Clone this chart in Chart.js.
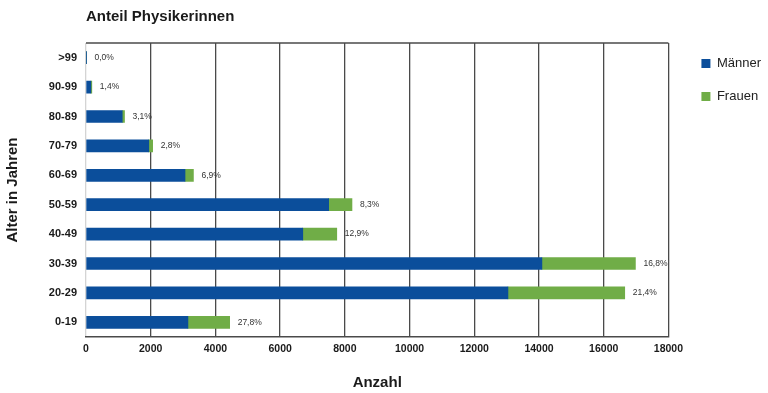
<!DOCTYPE html>
<html>
<head>
<meta charset="utf-8">
<script src="https://cdn.jsdelivr.net/npm/chart.js@4.4.0/dist/chart.umd.min.js"></script>
<style>
  html, body { margin: 0; padding: 0; background: #fff; }
  #wrap { width: 768px; height: 393px; }
</style>
</head>
<body>
<div id="wrap"><canvas id="barChart" width="768" height="393"></canvas></div>
<script>
// Altersgruppen, von unten nach oben
var labels = ['0-19', '20-29', '30-39', '40-49', '50-59', '60-69', '70-79', '80-89', '90-99', '>99'];
var maenner = [3150, 13040, 14090, 6700, 7500, 3060, 1940, 1120, 150, 15];
var frauen = [1290, 3610, 2890, 1050, 720, 260, 120, 70, 30, 0];
// Anteil Frauen in %
var anteil = [27.8, 21.4, 16.8, 12.9, 8.3, 6.9, 2.8, 3.1, 1.4, 0.0];

var FONT = '"Liberation Sans", Arial, sans-serif';

// Prozentwerte rechts neben den Balken
var anteilLabels = {
    id: 'anteilLabels',
    afterDatasetsDraw: function (chart) {
        var ctx = chart.ctx;
        var xs = chart.scales.x;
        var ys = chart.scales.y;
        ctx.save();
        ctx.font = '8.5px ' + FONT;
        ctx.fillStyle = '#333';
        ctx.textBaseline = 'middle';
        labels.forEach(function (l, i) {
            var px = xs.getPixelForValue(maenner[i] + frauen[i]) + 8;
            var py = ys.getPixelForValue(i);
            ctx.fillText(anteil[i].toFixed(1).replace('.', ',') + '%', px, py);
        });
        ctx.restore();
    }
};

// obere Rahmenlinie + Legende verschieben
var rahmen = {
    id: 'rahmen',
    afterLayout: function (chart) {
        var lg = chart.legend;
        if (lg) {
            lg.left += 13;
            lg.right += 13;
            lg.top -= 6;
        }
    },
    beforeDatasetsDraw: function (chart) {
        var a = chart.chartArea;
        var ctx = chart.ctx;
        ctx.save();
        ctx.strokeStyle = '#4a4a4a';
        ctx.lineWidth = 1.3;
        ctx.beginPath();
        ctx.moveTo(a.left, a.top);
        ctx.lineTo(a.right, a.top);
        ctx.stroke();
        ctx.restore();
    }
};

var data = {
    labels: labels,
    datasets: [{
        label: 'Männer',
        backgroundColor: '#0B4E9B',
        borderWidth: 0,
        data: maenner,
    }, {
        label: 'Frauen',
        backgroundColor: '#70AD47',
        borderWidth: 0,
        data: frauen,
    }]
};

var config = {
    type: 'bar',
    data: data,
    plugins: [anteilLabels, rahmen],
    options: {
        indexAxis: 'y',
        responsive: false,
        animation: false,
        devicePixelRatio: 1,
        barThickness: 12,
        layout: { padding: { left: 4, right: 10, top: 0, bottom: 1 } },
        plugins: {
            title: {
                display: true,
                text: 'Anteil Physikerinnen',
                align: 'start',
                fullSize: false,
                color: '#1a1a1a',
                font: { family: FONT, size: 15, weight: 'bold' },
                padding: { top: 8, bottom: 17 }
            },
            legend: {
                position: 'right',
                align: 'start',
                fullSize: false,
                labels: {
                    boxWidth: 9,
                    boxHeight: 9,
                    padding: 20,
                    color: '#222',
                    font: { family: FONT, size: 13 }
                }
            },
            tooltip: { enabled: false }
        },
        scales: {
            x: {
                stacked: true,
                min: 0,
                max: 18000,
                afterFit: function (s) { s.height = 55; },
                ticks: {
                    stepSize: 2000,
                    padding: 6,
                    color: '#1a1a1a',
                    font: { family: FONT, size: 10.5, weight: 'bold' },
                    callback: function (v) { return v; }
                },
                grid: {
                    drawTicks: false,
                    lineWidth: 1.3,
                    color: function (c) { return c.index === 0 ? '#d4d4d4' : '#4a4a4a'; }
                },
                border: { color: '#4a4a4a', width: 1.5 },
                title: {
                    display: true,
                    text: 'Anzahl',
                    color: '#1a1a1a',
                    font: { family: FONT, size: 15, weight: 'bold' },
                    padding: 0
                }
            },
            y: {
                stacked: true,
                reverse: true,
                afterFit: function (s) { s.width = 82; },
                grid: { display: false, drawTicks: false },
                border: { display: false },
                ticks: {
                    padding: 9,
                    color: '#1a1a1a',
                    font: { family: FONT, size: 11, weight: 'bold' }
                },
                title: {
                    display: true,
                    text: 'Alter in Jahren',
                    color: '#1a1a1a',
                    font: { family: FONT, size: 15, weight: 'bold' },
                    padding: 0
                }
            }
        }
    }
};

var barChart = new Chart(document.getElementById('barChart'), config);
</script>
</body>
</html>
